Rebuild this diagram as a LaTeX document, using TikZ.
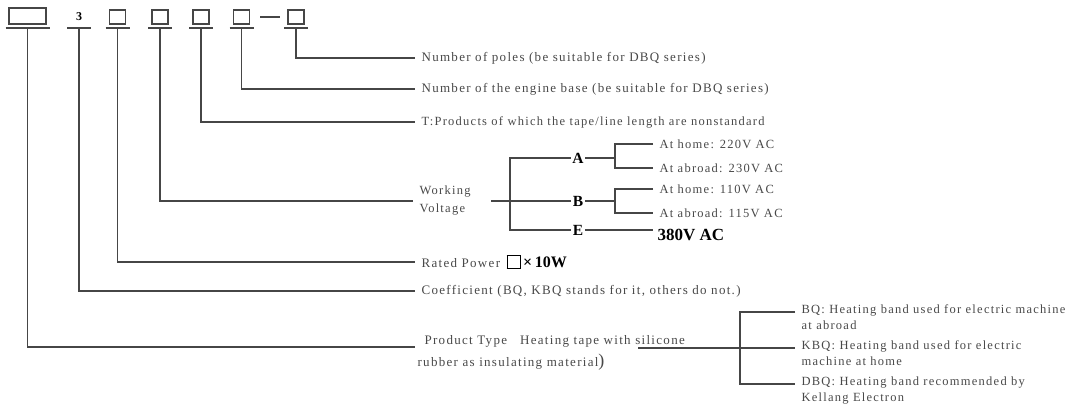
\documentclass[tikz,border=0pt]{standalone}
\usepackage{fontspec}
\setmainfont{Liberation Serif}
\newfontfamily\lblfont[LetterSpace=10]{Liberation Serif}
\usetikzlibrary{positioning}
\definecolor{ink}{HTML}{464646}
\definecolor{txt}{HTML}{484848}

\tikzset{
  codebox/.style={draw=ink, line width=1.6pt, minimum width=16pt, minimum height=14pt, inner sep=0pt},
  lbl/.style={anchor=west, inner xsep=6pt, inner ysep=0pt, text=txt, align=left,
    font=\lblfont\fontsize{13}{16}\selectfont},
  ulbar/.style={line width=1.8pt},
  letter/.style={inner sep=1pt, text=black, font=\bfseries\fontsize{15.5}{15.5}\selectfont}
}

\begin{document}
\begin{tikzpicture}[x=1pt, y=-1pt, line width=1.2pt, ink]
  \useasboundingbox (0,0) rectangle (1084,410);

  % Code boxes
  \node[codebox, minimum width=37pt, minimum height=16pt] (c1) at (27.5,16) {};
  \node[inner sep=0pt, text=black, font=\bfseries\fontsize{12}{12}\selectfont] (c2) at (79,17) {3};
  \foreach \n/\x in {3/117.5, 4/160, 5/201, 6/241.5, 7/296} {
    \node[codebox] (c\n) at (\x,17) {};
  }
  \draw[line width=1.6pt] ([xshift=10pt]c6.east) -- ([xshift=-7pt]c7.west);

  % Underlines
  \foreach \n/\w in {1/22, 2/12, 3/12, 4/12, 5/12, 6/12, 7/12} {
    \coordinate (u\n) at (c\n |- 0,28);
    \draw[ulbar] ([xshift=-\w pt]u\n) -- ([xshift=\w pt]u\n);
  }

  % Labels
  \node[lbl] (lpoles) at (415,58) {Number of poles (be suitable for DBQ series)};
  \node[lbl] (lbase) at (415,89) {Number of the engine base (be suitable for DBQ series)};
  \node[lbl, font=\lblfont\fontsize{12.5}{16}\selectfont] (ltape) at (415,122) {T:Products of which the tape/line length are nonstandard};
  \node[lbl, font=\lblfont\fontsize{12.5}{18}\selectfont] (lvolt) at (413,201) {Working\\Voltage};
  \node[lbl] (lpower) at (415,262) {Rated Power\enspace{\color{black}\setlength\fboxsep{0pt}\setlength\fboxrule{1.2pt}\raisebox{-1pt}{\fbox{\rule{0pt}{12pt}\hspace{12pt}}}\,{\bfseries\fontsize{16}{16}\selectfont\addfontfeature{LetterSpace=0}×\,10W}}};
  \node[lbl] (lcoef) at (415,291) {Coefficient (BQ, KBQ stands for it, others do not.)};
  \node[lbl, anchor=base west] (ltype) at (418,344) {Product Type\quad Heating tape with silicone};
  \node[lbl, anchor=base west] (lmat) at (411,366) {rubber as insulating material{\fontsize{18}{18}\selectfont)}};
  \coordinate (tin) at (415,347);

  % Edges from the code boxes
  \draw (u7) |- (lpoles.west);
  \draw (u6) |- (lbase.west);
  \draw (u5) |- (ltape.west);
  \draw (u4) |- (lvolt.west);
  \draw (u3) |- (lpower.west);
  \draw (u2) |- (lcoef.west);
  \draw (u1) |- (tin);

  % Working voltage
  \node[letter] (nA) at (578,158) {A};
  \node[letter] (nB) at (578,201) {B};
  \node[letter] (nE) at (578,230) {E};
  \coordinate (vbus) at (510,201);
  \draw ([xshift=14pt]lvolt.east) -- (nB.west);
  \draw (nA.west) -| (vbus |- nE) -- (nE.west);

  \node[lbl, font=\lblfont\fontsize{12.5}{16}\selectfont] (h220) at (653,144) {At home: 220V AC};
  \node[lbl, font=\lblfont\fontsize{12.5}{16}\selectfont] (a230) at (653,168) {At abroad: 230V AC};
  \node[lbl, font=\lblfont\fontsize{12.5}{16}\selectfont] (h110) at (653,189) {At home: 110V AC};
  \node[lbl, font=\lblfont\fontsize{12.5}{16}\selectfont] (a115) at (653,213) {At abroad: 115V AC};
  \node[anchor=west, inner xsep=4pt, text=black, font=\bfseries\fontsize{17}{17}\selectfont] (v380) at (653,235) {380V AC};
  \coordinate (abus) at (615,158);
  \coordinate (bbus) at (615,201);
  \draw (nA.east) -- (abus);
  \draw (h220.west) -| (abus) |- (a230.west);
  \draw (nB.east) -- (bbus);
  \draw (h110.west) -| (bbus) |- (a115.west);
  \draw (nE.east) -- (nE -| v380.west);

  % Product type
  \node[lbl, anchor=north west, font=\lblfont\fontsize{12.5}{16}\selectfont] (tbq) at (795,304) {BQ: Heating band used for electric machine\\at abroad};
  \node[lbl, anchor=north west, font=\lblfont\fontsize{12.5}{16}\selectfont] (tkbq) at (795,340) {KBQ: Heating band used for electric\\machine at home};
  \node[lbl, anchor=north west, font=\lblfont\fontsize{12.5}{16}\selectfont] (tdbq) at (795,376) {DBQ: Heating band recommended by\\Kellang Electron};
  \coordinate (tout) at (638,348);
  \coordinate (tbus) at (740,348);
  \draw (tout) -- ([yshift=-8pt]tkbq.north west);
  \draw ([yshift=-8pt]tbq.north west) -| (tbus) |- ([yshift=-8pt]tdbq.north west);
\end{tikzpicture}
\end{document}
